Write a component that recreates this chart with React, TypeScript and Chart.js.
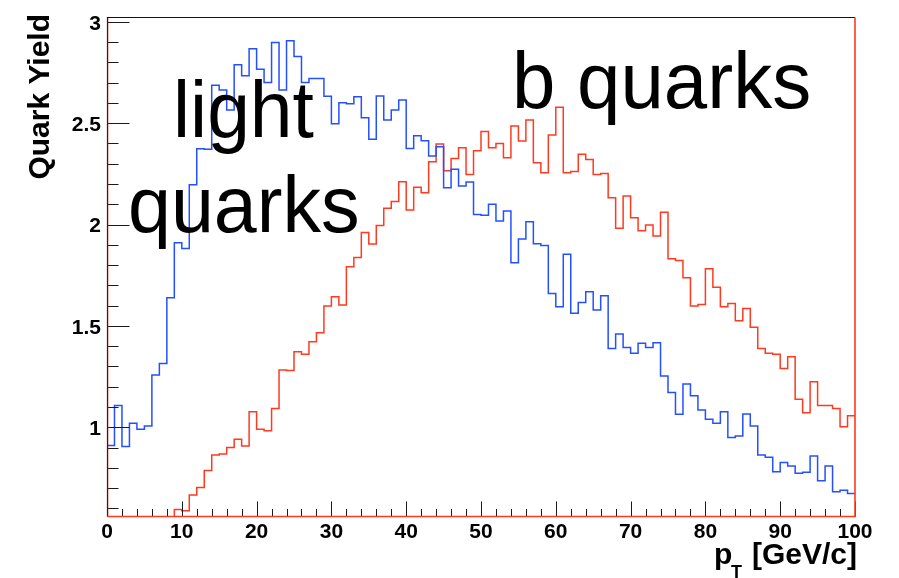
import React, { useEffect, useRef } from "react";
import { Chart, registerables } from "chart.js";

Chart.register(...registerables);

// pT bins: 100 bins of 1 GeV/c from 0 to 100
const binLowEdges: number[] = Array.from({ length: 100 }, (_, i) => i);
const pTMax = 100;

// light-quark yield per bin
const lightQuarkYield: number[] = [
  0.91, 1.107, 0.905, 1.02, 0.99, 1.006, 1.258, 1.315, 1.639, 1.91,
  1.882, 2.196, 2.374, 2.371, 2.687, 2.663, 2.565, 2.788, 2.733, 2.867,
  2.765, 2.7, 2.897, 2.663, 2.906, 2.829, 2.7, 2.72, 2.72, 2.632,
  2.497, 2.6, 2.595, 2.63, 2.527, 2.42, 2.634, 2.515, 2.565, 2.614,
  2.375, 2.438, 2.413, 2.338, 2.384, 2.181, 2.272, 2.19, 2.21, 2.049,
  2.046, 2.1, 2.017, 2.067, 1.812, 1.929, 2.013, 1.905, 1.897, 1.66,
  1.595, 1.853, 1.562, 1.615, 1.669, 1.578, 1.649, 1.389, 1.46, 1.393,
  1.365, 1.414, 1.393, 1.417, 1.253, 1.171, 1.064, 1.213, 1.156, 1.085,
  1.04, 1.02, 1.077, 0.95, 0.957, 1.066, 1.006, 0.864, 0.852, 0.781,
  0.827, 0.809, 0.773, 0.778, 0.858, 0.737, 0.809, 0.682, 0.69, 0.674,
];

// b-quark yield per bin (first bins sit below the visible range)
const bQuarkYield: number[] = [
  0.3, 0.33, 0.36, 0.4, 0.43, 0.46, 0.5, 0.52, 0.54, 0.595,
  0.589, 0.666, 0.703, 0.787, 0.864, 0.868, 0.901, 0.941, 0.908, 1.077,
  0.99, 0.983, 1.093, 1.283, 1.28, 1.373, 1.36, 1.422, 1.466, 1.598,
  1.644, 1.603, 1.792, 1.837, 1.96, 1.904, 1.995, 2.08, 2.113, 2.211,
  2.071, 2.184, 2.157, 2.31, 2.397, 2.265, 2.326, 2.379, 2.247, 2.364,
  2.458, 2.379, 2.4, 2.329, 2.486, 2.412, 2.515, 2.305, 2.255, 2.441,
  2.578, 2.255, 2.261, 2.346, 2.321, 2.247, 2.252, 2.132, 1.981, 2.14,
  2.033, 1.969, 1.997, 1.943, 2.061, 1.831, 1.823, 1.737, 1.598, 1.606,
  1.782, 1.691, 1.594, 1.611, 1.525, 1.586, 1.493, 1.389, 1.365, 1.36,
  1.29, 1.348, 1.138, 1.072, 1.225, 1.107, 1.107, 1.093, 1.003, 1.057,
];

const xTickLabels: number[] = [0, 10, 20, 30, 40, 50, 60, 70, 80, 90, 100];
const yTickLabels: number[] = [1, 1.5, 2, 2.5, 3];
const xMinorTicks: number[] = Array.from({ length: 51 }, (_, i) => i * 2);
const yMinorTicks: number[] = Array.from({ length: 25 }, (_, i) => Math.round((0.6 + i * 0.1) * 10) / 10);

const yMin = 0.5577;
const yMax = 3.0232;

const BLUE = "#2450ff";
const RED = "#ff3a1f";
const FONT = "'Liberation Sans', Arial, Helvetica, sans-serif";

// histogram outline: point at each bin's low edge, plus closing point at the upper edge
function histPoints(values: number[]) {
  const pts = values.map((v, i) => ({ x: binLowEdges[i], y: v }));
  pts.push({ x: pTMax, y: values[values.length - 1] });
  return pts;
}

// slightly condensed annotation text
function condensedText(ctx: CanvasRenderingContext2D, text: string, x: number, y: number, sx: number) {
  ctx.save();
  ctx.translate(x, y);
  ctx.scale(sx, 1);
  ctx.fillText(text, 0, 0);
  ctx.restore();
}

const rootStylePlugin = {
  id: "rootStyle",
  afterDatasetsDraw(chart: any) {
    const { ctx, chartArea: a, scales } = chart;
    const xs = scales.x;
    const ys = scales.y;
    const left = a.left + 0.5;
    const bottom = a.bottom - 0.5;
    const top = a.top + 0.5;
    const right = a.right;
    ctx.save();

    // inward ticks
    ctx.strokeStyle = "#1a1a1a";
    ctx.lineWidth = 1;
    ctx.beginPath();
    for (const v of yMinorTicks) {
      if (v < yMin || v > yMax) continue;
      const py = Math.round(ys.getPixelForValue(v)) + 0.5;
      const len = yTickLabels.includes(v) ? 22 : 11;
      ctx.moveTo(left, py);
      ctx.lineTo(left + len, py);
    }
    for (const v of xMinorTicks) {
      const px = Math.round(xs.getPixelForValue(v)) + 0.5;
      const len = xTickLabels.includes(v) ? 15 : 7.5;
      ctx.moveTo(px, bottom);
      ctx.lineTo(px, bottom - len);
    }
    ctx.stroke();

    // frame
    ctx.beginPath();
    ctx.strokeStyle = "#111";
    ctx.lineWidth = 1.2;
    ctx.moveTo(left, bottom);
    ctx.lineTo(left, top);
    ctx.lineTo(right, top);
    ctx.stroke();
    ctx.beginPath();
    ctx.strokeStyle = "rgba(255,40,10,0.45)";
    ctx.lineWidth = 1;
    ctx.moveTo(left + 0.5, bottom);
    ctx.lineTo(left + 0.5, top + 1);
    ctx.stroke();
    ctx.beginPath();
    ctx.strokeStyle = RED;
    ctx.lineWidth = 1.6;
    ctx.moveTo(left, bottom);
    ctx.lineTo(right, bottom);
    ctx.lineTo(right, top);
    ctx.stroke();

    // tick labels
    ctx.fillStyle = "#000";
    ctx.font = `bold 21px ${FONT}`;
    ctx.textAlign = "right";
    ctx.textBaseline = "middle";
    for (const v of yTickLabels) {
      ctx.fillText(String(v), 101, ys.getPixelForValue(v) + 2);
    }
    ctx.textAlign = "center";
    for (const v of xTickLabels) {
      ctx.fillText(String(v), xs.getPixelForValue(v), 532);
    }

    // axis titles
    ctx.font = `bold 30px ${FONT}`;
    ctx.textBaseline = "alphabetic";
    ctx.textAlign = "right";
    ctx.fillText("[GeV/c]", 857, 564);
    ctx.textAlign = "left";
    ctx.fillText("p", 714, 564);
    ctx.font = `bold 18px ${FONT}`;
    ctx.fillText("T", 731, 578);

    ctx.save();
    ctx.font = `bold 30px ${FONT}`;
    ctx.translate(48.5, 14);
    ctx.rotate(-Math.PI / 2);
    ctx.textAlign = "right";
    ctx.fillText("Quark Yield", 0, 0);
    ctx.restore();

    // series annotations
    ctx.font = `80px ${FONT}`;
    ctx.textAlign = "left";
    ctx.fillStyle = "#000";
    condensedText(ctx, "light", 173, 137, 0.96);
    condensedText(ctx, "quarks", 128, 232, 0.965);
    condensedText(ctx, "b quarks", 512, 108, 0.975);

    ctx.restore();
  },
};

export default function App() {
  const canvasRef = useRef<HTMLCanvasElement>(null);

  useEffect(() => {
    const canvas = canvasRef.current;
    if (!canvas) return;
    const chart = new Chart(canvas, {
      type: "line",
      data: {
        datasets: [
          {
            label: "light quarks",
            data: histPoints(lightQuarkYield),
            borderColor: BLUE,
            borderWidth: 1.5,
            stepped: true,
            pointRadius: 0,
            fill: false,
          },
          {
            label: "b quarks",
            data: histPoints(bQuarkYield),
            borderColor: RED,
            borderWidth: 1.5,
            stepped: true,
            pointRadius: 0,
            fill: false,
          },
        ],
      },
      options: {
        responsive: false,
        animation: false,
        devicePixelRatio: 1,
        parsing: false as any,
        layout: { padding: { left: 107, right: 44, top: 17, bottom: 61 } },
        plugins: {
          legend: { display: false },
          tooltip: { enabled: false },
        },
        scales: {
          x: { type: "linear", min: 0, max: pTMax, display: false },
          y: { type: "linear", min: yMin, max: yMax, display: false },
        },
      },
      plugins: [rootStylePlugin],
    });
    return () => chart.destroy();
  }, []);

  return (
    <div style={{ position: "fixed", left: 0, top: 0, width: 899, height: 578, background: "#fff" }}>
      <canvas ref={canvasRef} width={899} height={578} style={{ display: "block", width: 899, height: 578 }} />
    </div>
  );
}
